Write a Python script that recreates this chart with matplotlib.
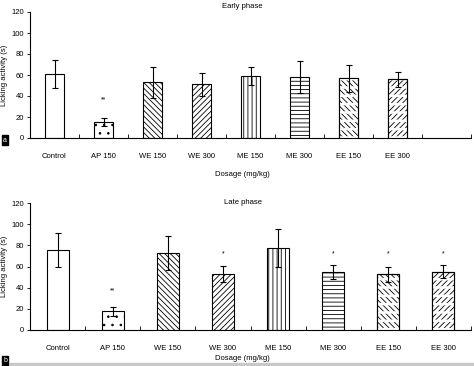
import matplotlib.pyplot as plt
from matplotlib.patches import Rectangle

plt.rcParams['font.family'] = ['Liberation Sans', 'DejaVu Sans']
plt.rcParams['hatch.linewidth'] = 0.6

groups = ["Control", "AP 150", "WE 150", "WE 300", "ME 150", "ME 300", "EE 150", "EE 300"]
hatches = [None, '..', '\\' * 6, '/' * 6, '||||', '----', '\\' * 6, '/' * 6]
dashed = [False, False, False, False, False, False, True, True]

early_mean = [61, 15, 53, 51, 59, 58, 57, 56]
early_err = [13, 4, 15, 11, 8.5, 15, 13, 7]
early_sig = ["", "**", "", "", "", "", "", ""]
early_sig_y = [0, 36, 0, 0, 0, 0, 0, 0]

late_mean = [76, 17.5, 73, 53, 77.5, 55, 52.5, 55]
late_err = [16, 4.5, 16, 7.5, 18, 6.5, 7.5, 6]
late_sig = ["", "**", "", "*", "", "*", "*", "*"]
late_sig_y = [0, 37, 0, 72, 0, 72, 72, 72]

fig = plt.figure(figsize=(4.74, 3.66), dpi=100)
ax1 = fig.add_axes([30/474, 1-138/366, 441/474, 126/366])
ax2 = fig.add_axes([30/474, 1-330/366, 441/474, 127/366])


def draw(ax, means, errs, sig, sig_y, nslots):
    x = list(range(len(groups)))
    for i in x:
        ax.bar(i, means[i], width=0.4, color='white', edgecolor='black',
               linewidth=0.8, hatch=hatches[i], zorder=2)
        if dashed[i]:
            # break the diagonals into rows of short dashes
            with plt.rc_context({'hatch.linewidth': 1.8}):
                ax.bar(i, means[i], width=0.4, color='none', edgecolor='white',
                       linewidth=0, hatch='--', zorder=3)
            ax.bar(i, means[i], width=0.4, color='none', edgecolor='black',
                   linewidth=0.8, zorder=4)
    ax.errorbar(x, means, yerr=errs, fmt='none', ecolor='black',
                elinewidth=0.8, capsize=2.5, capthick=0.8, zorder=5)
    for i in x:
        if sig[i]:
            ax.text(i, sig_y[i], sig[i], ha='center', va='center', fontsize=5)
    ax.set_xlim(-0.5, nslots - 0.5)
    ax.set_ylim(0, 120)
    ax.set_yticks(range(0, 121, 20))
    ax.set_xticks(x)
    ax.set_xticklabels(groups, fontsize=5.5)
    ax.set_xticks([k + 0.5 for k in range(nslots)], minor=True)
    ax.tick_params(axis='x', which='major', length=0, pad=11)
    ax.tick_params(axis='x', which='minor', direction='in', length=3, width=0.6)
    ax.tick_params(axis='y', direction='out', length=2.5, width=0.6,
                   labelsize=5.5, pad=2)
    for s in ['top', 'right']:
        ax.spines[s].set_visible(False)
    for s in ['left', 'bottom']:
        ax.spines[s].set_linewidth(0.8)
    ax.set_ylabel("Licking activity (s)", fontsize=5.5, labelpad=2)


draw(ax1, early_mean, early_err, early_sig, early_sig_y, 9)
draw(ax2, late_mean, late_err, late_sig, late_sig_y, 8)

fig.text(242/474, 1-7/366, "Early phase", ha='center', va='center', fontsize=5.5)
fig.text(242/474, 1-175/366, "Dosage (mg/kg)", ha='center', va='center', fontsize=5.5)
fig.text(243/474, 1-203/366, "Late phase", ha='center', va='center', fontsize=5.5)
fig.text(242/474, 1-358/366, "Dosage (mg/kg)", ha='center', va='center', fontsize=5.5)

# panel letters and bottom band
fig.patches.append(Rectangle((10/474, 0), 464/474, 3/366, transform=fig.transFigure,
                             color='#c8c8c8', zorder=0))
fig.text(5/474, 1-140/366, "a", ha='center', va='center', fontsize=5, color='white',
         bbox=dict(boxstyle='square,pad=0.15', fc='black', ec='black'))
fig.text(5/474, 1-361/366, "b", ha='center', va='center', fontsize=5, color='white',
         bbox=dict(boxstyle='square,pad=0.15', fc='black', ec='black'))

fig.savefig("out.png", dpi=100)
